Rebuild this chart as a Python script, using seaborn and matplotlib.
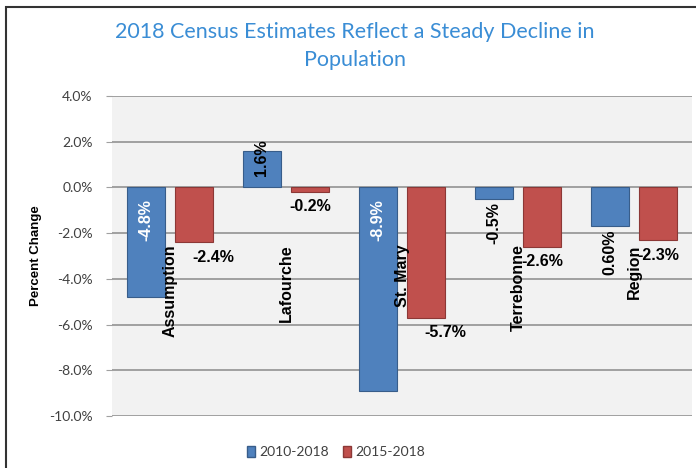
import seaborn as sns
import matplotlib.pyplot as plt
import matplotlib.patches as mpatches
import pandas as pd

areas = ["Assumption", "Lafourche", "St. Mary", "Terrebonne", "Region"]
periods = ["2010-2018", "2015-2018"]
change_2010 = [-4.8, 1.6, -8.9, -0.5, -1.7]
change_2015 = [-2.4, -0.2, -5.7, -2.6, -2.3]
labels_2010 = ["-4.8%", "1.6%", "-8.9%", "-0.5%", "0.60%"]
labels_2015 = ["-2.4%", "-0.2%", "-5.7%", "-2.6%", "-2.3%"]
y_ticks = [4, 2, 0, -2, -4, -6, -8, -10]

df = pd.DataFrame({
    "area": areas * 2,
    "period": [periods[0]] * 5 + [periods[1]] * 5,
    "change": change_2010 + change_2015,
})

blue, red = "#4f81bd", "#c0504d"
px = 72 / 100  # pixels -> points

fig = plt.figure(figsize=(6.96, 4.68), dpi=100)
ax = fig.add_axes([112 / 696, 1 - 416 / 468, 580 / 696, 320 / 468])
ax.set_facecolor("#f2f2f2")

sns.barplot(data=df, x="area", y="change", hue="period", palette=[blue, red],
            saturation=1, width=0.83, gap=0.2, ax=ax, legend=False, zorder=3)
for cont, ec in zip(ax.containers, ["#385d8a", "#8c3836"]):
    for bar in cont:
        bar.set_edgecolor(ec)
        bar.set_linewidth(0.8)

ax.set_ylim(-10, 4)
ax.set_xlim(-0.5, 4.5)
ax.set_yticks(y_ticks)
ax.set_yticklabels([f"{t:.1f}%" for t in y_ticks], fontfamily="Lato",
                   fontsize=10, color="#404040")
ax.set_xticks([])
ax.set_xlabel("")
ax.set_ylabel("Percent Change", fontfamily="Liberation Sans", fontweight="bold",
              fontsize=9.5, labelpad=5)
ax.grid(axis="y", color="#a0a0a0", linewidth=1.4, zorder=1)
ax.tick_params(axis="y", length=4, color="#a0a0a0", pad=10)
for s in ax.spines.values():
    s.set_visible(False)

lab = dict(fontfamily="Liberation Sans", fontweight="bold", fontsize=11.5)

# 2010-2018 labels (rotated)
modes = ["base", "base", "base", "end", "end"]
colors = ["white", "black", "white", "black", "black"]
for bar, val, txt, mode, c in zip(ax.containers[0], change_2010, labels_2010, modes, colors):
    xc = bar.get_x() + bar.get_width() / 2
    if mode == "base":
        if val < 0:
            ax.annotate(txt, (xc, 0), xytext=(0, -12 * px), textcoords="offset points",
                        rotation=90, ha="center", va="top", color=c, zorder=5, **lab)
        else:
            ax.annotate(txt, (xc, 0), xytext=(0, 11 * px), textcoords="offset points",
                        rotation=90, ha="center", va="bottom", color=c, zorder=5, **lab)
    else:
        ax.annotate(txt, (xc, val), xytext=(0, -3 * px), textcoords="offset points",
                    rotation=90, ha="center", va="top", color=c, zorder=5, **lab)

# 2015-2018 labels (horizontal)
nudges = [19, 0, 19, 0, 0]
for bar, val, txt, dx in zip(ax.containers[1], change_2015, labels_2015, nudges):
    xc = bar.get_x() + bar.get_width() / 2
    ax.annotate(txt, (xc, val), xytext=(dx * px, -15 * px), textcoords="offset points",
                ha="center", va="center", color="black", zorder=5, **lab)

# category names
for i, name in enumerate(areas):
    ax.text(i, -2.5, name, rotation=90, ha="center", va="top", zorder=6, **lab)

fig.text(355 / 696, 1 - 32 / 468, "2018 Census Estimates Reflect a Steady Decline in",
         ha="center", va="center", fontfamily="Lato", fontsize=15.5, color="#3a8dd5")
fig.text(355 / 696, 1 - 60 / 468, "Population",
         ha="center", va="center", fontfamily="Lato", fontsize=15.5, color="#3a8dd5")

handles = [mpatches.Patch(facecolor=blue, edgecolor="#385d8a", label=periods[0]),
           mpatches.Patch(facecolor=red, edgecolor="#8c3836", label=periods[1])]
leg = fig.legend(handles=handles, loc="center", bbox_to_anchor=(336 / 696, 1 - 452 / 468),
                 ncol=2, frameon=False, handlelength=0.6, handleheight=0.8,
                 handletextpad=0.3, columnspacing=1.0,
                 prop={"family": "Lato", "size": 10})
for t in leg.get_texts():
    t.set_color("#404040")

# outer chart frame
fig.patches.append(mpatches.Rectangle((6 / 696, -0.1), 1.2, 1.1 - 7.5 / 468,
                                      transform=fig.transFigure, fill=False,
                                      edgecolor="#333333", linewidth=1.5))

fig.savefig("out.png", dpi=100)
